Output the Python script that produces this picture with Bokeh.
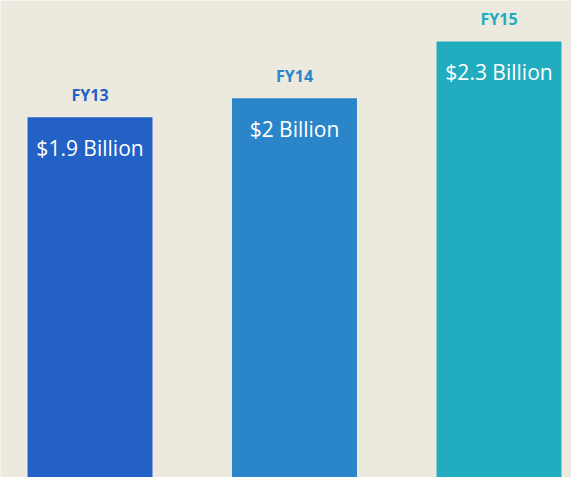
from bokeh.plotting import figure
from bokeh.models import Range1d, ColumnDataSource
from bokeh.core.properties import value
from bokeh.embed import file_html
from bokeh.resources import INLINE

categories = ["FY13", "FY14", "FY15"]
revenue_billion = [1.9, 2.0, 2.3]
value_labels = ["$1.9 Billion", "$2 Billion", "$2.3 Billion"]
bar_colors = ["#2361C6", "#2A86C9", "#21ADBF"]

BG = "#ECE9DF"
xs = list(range(len(categories)))

src = ColumnDataSource(dict(x=xs, top=revenue_billion, cat=categories,
                            lab=value_labels, color=bar_colors))

p = figure(width=571, height=477, output_backend="svg", toolbar_location=None,
           x_range=Range1d(-0.4377, 2.3545), y_range=Range1d(0, 2.5158),
           min_border=0, min_border_left=0, min_border_right=0,
           min_border_top=0, min_border_bottom=0)
p.background_fill_color = BG
p.border_fill_color = BG
p.outline_line_color = None
p.axis.visible = False
p.grid.visible = False

p.vbar(x="x", top="top", bottom=0, width=0.611, fill_color="color",
       line_color=None, source=src)

p.text(x="x", y="top", text="cat", text_color="color", source=src,
       text_font=value("Open Sans"), text_font_size="16px", text_font_style="bold",
       text_align="center", text_baseline="middle", y_offset=-22)

p.text(x="x", y="top", text="lab", text_color="white", source=src,
       text_font=value("Open Sans"), text_font_size="21px",
       text_align="center", text_baseline="middle", y_offset=31)

html = file_html(p, INLINE)
html = html.replace("<body>", '<body style="background:%s">' % BG, 1)
open("out.html", "w").write(html)
